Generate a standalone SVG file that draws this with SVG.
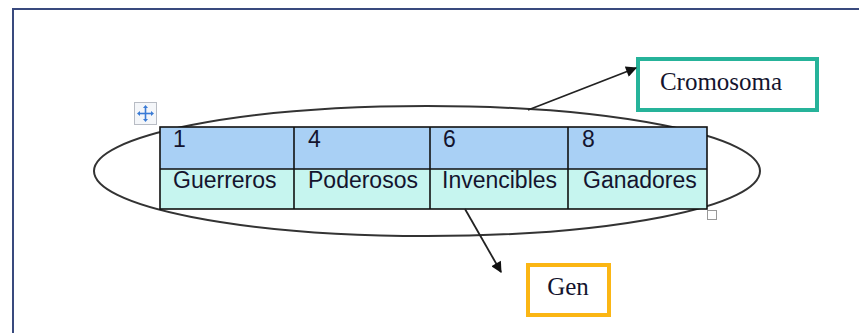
<svg xmlns="http://www.w3.org/2000/svg" width="859" height="333" viewBox="0 0 859 333">
  <style>
    .frame { fill: none; stroke: #394a7e; stroke-width: 2; }
    .grid { stroke: #111; stroke-width: 1.6; fill: none; }
    .cell-num { fill: #a9d0f5; }
    .cell-name { fill: #c6f5ef; }
    .cell-text { font-family: "Liberation Sans", Arial, sans-serif; font-size: 23px; fill: #14142e; }
    .label { font-family: "Liberation Serif", "Times New Roman", serif; font-size: 25px; fill: #14142e; text-anchor: middle; }
    .conn { stroke: #222; stroke-width: 1.8; fill: none; marker-end: url(#arrow); }
  </style>
  <defs>
    <marker id="arrow" viewBox="0 0 10 10" refX="9" refY="5" markerWidth="13" markerHeight="11" orient="auto" markerUnits="userSpaceOnUse">
      <path d="M0,0 L10,5 L0,10 z" fill="#111"/>
    </marker>
  </defs>
  <rect width="859" height="333" fill="#fff"/>

  <!-- page frame -->
  <polyline class="frame" points="13,333 13,9 859,9"/>

  <!-- chromosome outline -->
  <g id="chromosome">
    <ellipse cx="427" cy="171" rx="333" ry="65" fill="none" stroke="#333" stroke-width="2"/>
  </g>

  <!-- gene table -->
  <g id="gene-table">
    <rect class="cell-num" x="160" y="127" width="547" height="42"/>
    <rect class="cell-name" x="160" y="169" width="547" height="40"/>
    <rect class="grid" x="160" y="127" width="547" height="82"/>
    <line class="grid" x1="160" y1="169" x2="707" y2="169"/>
    <line class="grid" x1="294" y1="127" x2="294" y2="209"/>
    <line class="grid" x1="430" y1="127" x2="430" y2="209"/>
    <line class="grid" x1="568" y1="127" x2="568" y2="209"/>
    <text class="cell-text" x="173" y="147">1</text>
    <text class="cell-text" x="308" y="147">4</text>
    <text class="cell-text" x="443" y="147">6</text>
    <text class="cell-text" x="582" y="147">8</text>
    <text class="cell-text" x="173" y="188">Guerreros</text>
    <text class="cell-text" x="308" y="188">Poderosos</text>
    <text class="cell-text" x="442" y="188">Invencibles</text>
    <text class="cell-text" x="583" y="188">Ganadores</text>
    <!-- move handle -->
    <rect x="134.5" y="102.5" width="22" height="22" fill="#f4f6f9" stroke="#b8bcc4" stroke-width="1"/>
    <g stroke="#3a7bd5" stroke-width="1.6" fill="#3a7bd5">
      <line x1="139" y1="113.5" x2="152" y2="113.5"/>
      <line x1="145.5" y1="107" x2="145.5" y2="120"/>
      <path d="M145.5,105 L143,108 L148,108 z" stroke="none"/>
      <path d="M145.5,122 L143,119 L148,119 z" stroke="none"/>
      <path d="M137,113.5 L140,111 L140,116 z" stroke="none"/>
      <path d="M154,113.5 L151,111 L151,116 z" stroke="none"/>
    </g>
    <!-- resize handle -->
    <rect x="707.5" y="210.5" width="9" height="9" fill="#fff" stroke="#999" stroke-width="1"/>
  </g>

  <!-- chromosome label -->
  <g id="cromosoma">
    <rect x="638" y="59" width="179" height="51" fill="#fff" stroke="#26b39a" stroke-width="4"/>
    <text class="label" x="721" y="90">Cromosoma</text>
  </g>

  <!-- gene label -->
  <g id="gen">
    <rect x="528" y="265" width="81" height="50" fill="#fff" stroke="#fbb614" stroke-width="4"/>
    <text class="label" x="568" y="295">Gen</text>
  </g>

  <!-- connectors -->
  <g id="connectors">
    <line class="conn" x1="528" y1="110" x2="636" y2="68"/>
    <line class="conn" x1="465" y1="209" x2="501" y2="272"/>
  </g>
</svg>
